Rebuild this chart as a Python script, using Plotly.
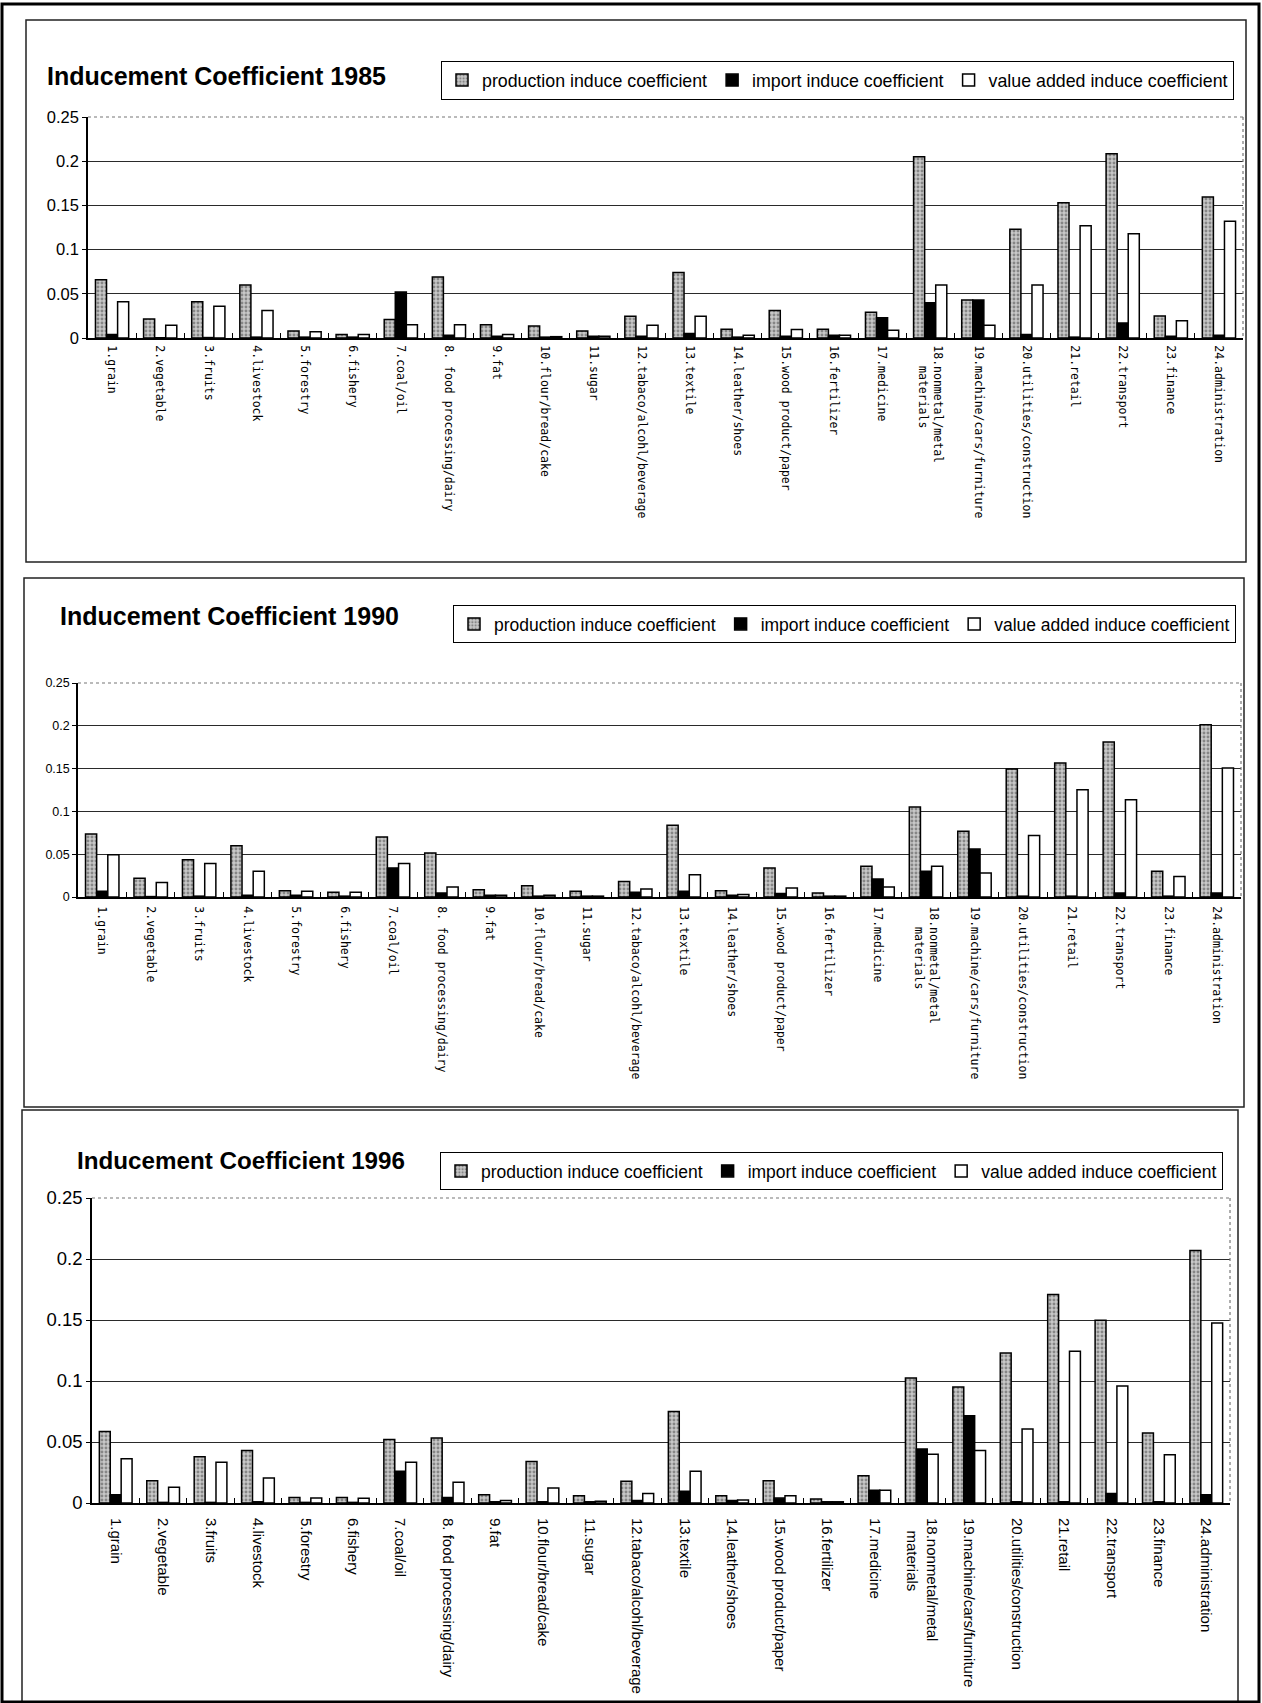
import plotly.graph_objects as go

# ---- data -------------------------------------------------------------
categories = [
    "1.grain", "2.vegetable", "3.fruits", "4.livestock", "5.forestry",
    "6.fishery", "7.coal/oil", "8. food processing/dairy", "9.fat",
    "10.flour/bread/cake", "11.sugar", "12.tabaco/alcohl/beverage",
    "13.textile", "14.leather/shoes", "15.wood product/paper",
    "16.fertilizer", "17.medicine", "18.nonmetal/metal materials",
    "19.machine/cars/furniture", "20.utilities/construction", "21.retail",
    "22.transport", "23.finance", "24.administration",
]
tick_labels = [c if not c.startswith("18.") else
               "18.nonmetal/metal<br>\u00a0\u00a0\u00a0materials" for c in categories]

years = ["1985", "1990", "1996"]

prod_1985 = [0.066, 0.0215, 0.041, 0.060, 0.008, 0.004, 0.021, 0.069, 0.015, 0.0136,
             0.008, 0.0245, 0.074, 0.010, 0.031, 0.010, 0.029, 0.205, 0.043, 0.123,
             0.153, 0.2085, 0.025, 0.1595]
imp_1985 = [0.004, 0.0003, 0.0005, 0.001, 0.001, 0.001, 0.052, 0.003, 0.002, 0.001,
            0.002, 0.002, 0.005, 0.001, 0.002, 0.003, 0.023, 0.040, 0.043, 0.004,
            0.001, 0.017, 0.002, 0.003]
va_1985 = [0.041, 0.0143, 0.036, 0.031, 0.007, 0.004, 0.015, 0.015, 0.004, 0.0015,
           0.002, 0.0143, 0.0245, 0.003, 0.0095, 0.003, 0.0087, 0.060, 0.0143, 0.060,
           0.127, 0.118, 0.0196, 0.132]

prod_1990 = [0.0736, 0.022, 0.0436, 0.060, 0.0074, 0.0055, 0.070, 0.0514, 0.0086, 0.0132,
             0.0066, 0.018, 0.0837, 0.0074, 0.034, 0.0047, 0.036, 0.105, 0.0767, 0.1495,
             0.1565, 0.181, 0.030, 0.2013]
imp_1990 = [0.0066, 0.0005, 0.001, 0.002, 0.002, 0.001, 0.034, 0.0047, 0.002, 0.001,
            0.001, 0.0055, 0.0066, 0.002, 0.004, 0.001, 0.021, 0.030, 0.056, 0.001,
            0.001, 0.0047, 0.001, 0.0047]
va_1990 = [0.0495, 0.017, 0.039, 0.030, 0.0066, 0.0055, 0.039, 0.0117, 0.002, 0.002,
           0.001, 0.0093, 0.026, 0.003, 0.0105, 0.001, 0.0117, 0.036, 0.028, 0.0717,
           0.1254, 0.1137, 0.024, 0.1507]

prod_1996 = [0.0587, 0.0183, 0.038, 0.043, 0.0046, 0.0046, 0.052, 0.0533, 0.0068, 0.034,
             0.006, 0.0178, 0.075, 0.006, 0.0183, 0.0033, 0.0224, 0.1025, 0.095, 0.123,
             0.171, 0.1497, 0.0574, 0.207]
imp_1996 = [0.0068, 0.0005, 0.0005, 0.001, 0.0005, 0.0005, 0.026, 0.0046, 0.001, 0.001,
            0.001, 0.002, 0.0096, 0.002, 0.004, 0.001, 0.0104, 0.0443, 0.0716, 0.001,
            0.001, 0.0077, 0.001, 0.0068]
va_1996 = [0.0363, 0.013, 0.0333, 0.0205, 0.004, 0.0038, 0.0333, 0.017, 0.002, 0.0123,
           0.0014, 0.0077, 0.026, 0.0025, 0.006, 0.001, 0.0104, 0.040, 0.043, 0.0607,
           0.1243, 0.096, 0.0396, 0.1475]

series_names = ["production induce coefficient", "import induce coefficient",
                "value added induce coefficient"]
y_ticks = [0, 0.05, 0.1, 0.15, 0.2, 0.25]
y_tick_text = ["0", "0.05", "0.1", "0.15", "0.2", "0.25"]

values = {
    "1985": (prod_1985, imp_1985, va_1985),
    "1990": (prod_1990, imp_1990, va_1990),
    "1996": (prod_1996, imp_1996, va_1996),
}

# ---- page geometry (pixels) -------------------------------------------
W, H = 1262, 1703


def px(x):
    return x / W


def py(y):
    return 1 - y / H


SANS = "'Liberation Sans', Arial, sans-serif"
MONO = "'DejaVu Sans Mono', 'Liberation Mono', monospace"

panels = [
    dict(year="1985", box=(26, 20, 1246, 562), plot=(88, 117, 1243, 338),
         title=(45, 76), title_font=dict(family=SANS, size=25),
         legend=(441, 61), legend_font=dict(family=SANS, size=17.8),
         ytick_font=dict(family=SANS, size=16.5), xtick_font=dict(family=MONO, size=11.5),
         standoff=3),
    dict(year="1990", box=(24, 578, 1244, 1107), plot=(78, 683, 1241, 897),
         title=(58, 616), title_font=dict(family=SANS, size=25),
         legend=(453, 605), legend_font=dict(family=SANS, size=17.5),
         ytick_font=dict(family=SANS, size=12.5), xtick_font=dict(family=MONO, size=11.5),
         standoff=5),
    dict(year="1996", box=(22, 1110, 1238, 1702), plot=(92, 1198, 1230, 1503),
         title=(75, 1160), title_font=dict(family=SANS, size=24.2),
         legend=(440, 1152), legend_font=dict(family=SANS, size=17.5),
         ytick_font=dict(family=SANS, size=18.5), xtick_font=dict(family=SANS, size=15),
         standoff=10),
]

fig = go.Figure()
shapes = []
annotations = []
layout_axes = {}

for i, p in enumerate(panels, start=1):
    sfx = "" if i == 1 else str(i)
    leg = "legend" if i == 1 else f"legend{i}"
    prod, imp, va = values[p["year"]]

    styles = [
        dict(color="#c4c4c4", line=dict(color="black", width=1.5),
             pattern=dict(shape=".", fgcolor="#444444", bgcolor="#c8c8c8",
                          size=4, solidity=0.42)),
        dict(color="black", line=dict(color="black", width=1.5)),
        dict(color="white", line=dict(color="black", width=1.5)),
    ]
    for name, vals, mk in zip(series_names, (prod, imp, va), styles):
        fig.add_trace(go.Bar(x=categories, y=vals, name=name, marker=mk,
                             xaxis="x" + sfx, yaxis="y" + sfx, legend=leg))

    x0, y0, x1, y1 = p["plot"]
    layout_axes["xaxis" + sfx] = dict(
        domain=[px(x0), px(x1)], anchor="y" + sfx, type="category",
        tickmode="array", tickvals=categories, ticktext=tick_labels,
        tickangle=90, tickfont=dict(color="black", **p["xtick_font"]),
        showline=True, linecolor="black", linewidth=2,
        ticks="inside", tickson="boundaries", ticklen=5, tickcolor="black",
        ticklabelstandoff=p["standoff"], showgrid=False, zeroline=False,
        fixedrange=True, automargin=False,
    )
    layout_axes["yaxis" + sfx] = dict(
        domain=[py(y1), py(y0)], anchor="x" + sfx, range=[0, 0.25],
        tickmode="array", tickvals=y_ticks, ticktext=y_tick_text,
        tickfont=dict(color="black", **p["ytick_font"]),
        showgrid=True, gridcolor="#2a2a2a", gridwidth=1,
        showline=True, linecolor="black", linewidth=1.5,
        ticks="outside", ticklen=4, tickcolor="black",
        zeroline=False, fixedrange=True, automargin=False,
    )

    # dotted grey border along the top and right of each plot area
    shapes.append(dict(type="line", xref="paper", yref="paper", layer="above",
                       x0=px(x0 + 1), x1=px(x1), y0=py(y0), y1=py(y0),
                       line=dict(color="white", width=3)))
    shapes.append(dict(type="line", xref="paper", yref="paper", layer="above",
                       x0=px(x0), x1=px(x1), y0=py(y0), y1=py(y0),
                       line=dict(color="#777777", width=1.2, dash="dot")))
    shapes.append(dict(type="line", xref="paper", yref="paper", layer="above",
                       x0=px(x1), x1=px(x1), y0=py(y0), y1=py(y1),
                       line=dict(color="#777777", width=1.2, dash="dot")))

    # panel frame
    bx0, by0, bx1, by1 = p["box"]
    shapes.append(dict(type="rect", xref="paper", yref="paper", layer="below",
                       x0=px(bx0), x1=px(bx1), y0=py(by1), y1=py(by0),
                       line=dict(color="#222222", width=1.5)))

    tx, ty = p["title"]
    annotations.append(dict(text=f"<b>Inducement Coefficient {p['year']}</b>",
                            xref="paper", yref="paper", x=px(tx), y=py(ty),
                            xanchor="left", yanchor="middle", showarrow=False,
                            font=dict(color="black", **p["title_font"])))

    lx, ly = p["legend"]
    layout_axes[leg] = dict(x=px(lx), y=py(ly), xanchor="left", yanchor="top",
                            orientation="h", bgcolor="white", bordercolor="black",
                            borderwidth=1, font=dict(color="black", **p["legend_font"]),
                            itemwidth=30, tracegroupgap=0, traceorder="normal")

# outer page frame
shapes.append(dict(type="rect", xref="paper", yref="paper", layer="below",
                   x0=px(2), x1=px(1259), y0=py(1702), y1=py(4),
                   line=dict(color="black", width=3)))

fig.update_layout(
    width=W, height=H,
    margin=dict(l=0, r=0, t=0, b=0, autoexpand=False),
    paper_bgcolor="white", plot_bgcolor="white",
    barmode="group", bargap=0.31, bargroupgap=0,
    shapes=shapes, annotations=annotations, showlegend=True,
    **layout_axes,
)

fig.write_html("out.html")
